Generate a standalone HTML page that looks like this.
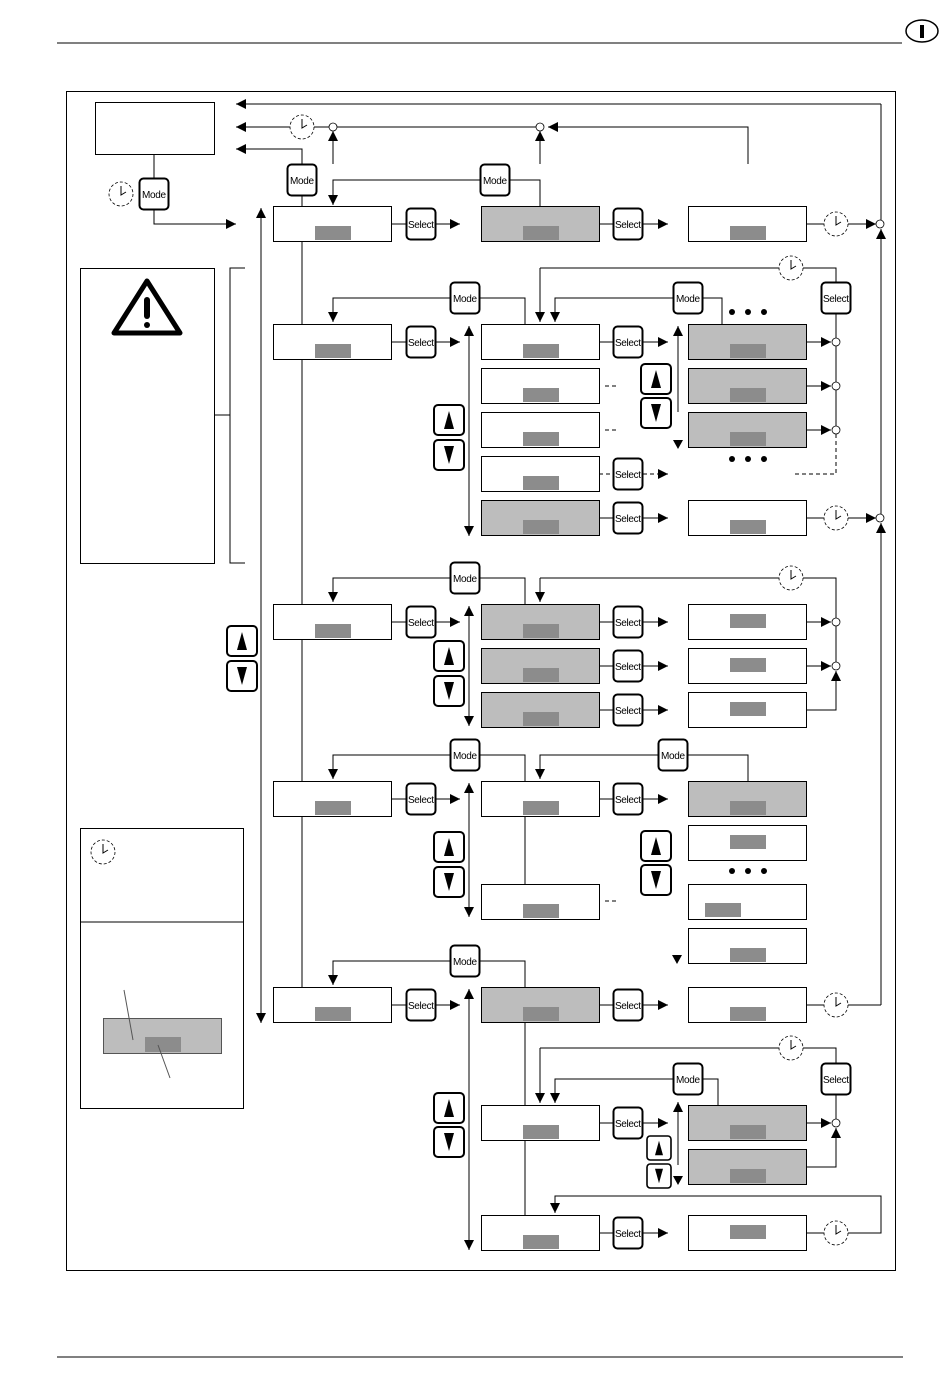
<!DOCTYPE html>
<html><head><meta charset="utf-8"><style>
html,body{margin:0;padding:0;background:#fff}
svg{display:block}
text{font-family:"Liberation Sans",sans-serif;font-size:10px}
</style></head><body>
<svg width="950" height="1379" viewBox="0 0 950 1379" xmlns="http://www.w3.org/2000/svg">
<defs>
<marker id="a" markerUnits="userSpaceOnUse" markerWidth="10" markerHeight="10" refX="10" refY="5" orient="auto"><path d="M0,0L10,5L0,10z"/></marker>
<g id="bw" shape-rendering="crispEdges"><rect x="0.5" y="0.5" width="118" height="35" fill="#fff" stroke="#000" stroke-width="1"/><rect x="42" y="20" width="36" height="14" fill="#8c8c8c"/></g>
<g id="bg" shape-rendering="crispEdges"><rect x="0.5" y="0.5" width="118" height="35" fill="#bdbdbd" stroke="#000" stroke-width="1"/><rect x="42" y="20" width="36" height="14" fill="#8c8c8c"/></g>
<g id="bc" shape-rendering="crispEdges"><rect x="0.5" y="0.5" width="118" height="35" fill="#fff" stroke="#000" stroke-width="1"/><rect x="42" y="10" width="36" height="14" fill="#8c8c8c"/></g>
<g id="clk"><circle r="12" fill="#fff" stroke="#000" stroke-width="0.8" stroke-dasharray="3,2"/><path d="M0,-8V1L5,-2" fill="none" stroke="#000" stroke-width="1"/></g>
<g id="btn"><rect x="-14.5" y="-15.5" width="29" height="31" rx="4" fill="#fff" stroke="#000" stroke-width="2"/></g>
<g id="up"><rect x="-15" y="-15" width="30" height="30" rx="4" fill="#fff" stroke="#000" stroke-width="2"/><path d="M-5,9L0,-9L5,9z"/></g>
<g id="dn"><rect x="-15" y="-15" width="30" height="30" rx="4" fill="#fff" stroke="#000" stroke-width="2"/><path d="M-5,-9L0,9L5,-9z"/></g>
<circle id="j" r="4" fill="#fff" stroke="#000" stroke-width="0.8"/>
</defs>

<g shape-rendering="crispEdges">
<line x1="57" y1="43" x2="902" y2="43" stroke="#000"/>
<line x1="57" y1="1357" x2="903" y2="1357" stroke="#000"/>
<rect x="66.5" y="91.5" width="829" height="1179" fill="none" stroke="#000"/>
</g>
<ellipse cx="922" cy="31" rx="16" ry="11" fill="none" stroke="#000" stroke-width="1.5"/>
<rect x="920" y="25" width="4" height="13"/>

<g fill="none" stroke="#000" stroke-width="1" shape-rendering="crispEdges">
<path d="M881,104H236" marker-end="url(#a)"/>
<path d="M748,164V127H548" marker-end="url(#a)"/>
<path d="M536,127H236" marker-end="url(#a)"/>
<path d="M302,164V149H236" marker-end="url(#a)"/>
<path d="M333,164V131" marker-end="url(#a)"/>
<path d="M540,164V131" marker-end="url(#a)"/>
<path d="M154,154V178M154,210V224H236" marker-end="url(#a)"/>
<path d="M481,180H333V205" marker-end="url(#a)"/>
<path d="M510,180H540V206"/>
<path d="M302,196V987"/>
<path d="M261,1020V208" marker-end="url(#a)"/>
<path d="M261,210V1023" marker-end="url(#a)"/>
<path d="M881,104V220"/>
<path d="M881,518V229" marker-end="url(#a)"/>
<path d="M881,1005V523" marker-end="url(#a)"/>
<path d="M848,224H876" marker-end="url(#a)"/>
<path d="M848,518H876" marker-end="url(#a)"/>
<path d="M848,1005H881"/>
<path d="M807,224H824M807,518H824M807,1005H824M807,1233H824"/>
<path d="M391,224H406M436,224H460" marker-end="url(#a)"/>
<path d="M599,224H614M643,224H668" marker-end="url(#a)"/>
<path d="M245,268H230V563H245M214,415H230"/>

<path d="M451,298H333V322" marker-end="url(#a)"/>
<path d="M480,298H525V324"/>
<path d="M391,342H406M436,342H460" marker-end="url(#a)"/>
<path d="M469,340V326" marker-end="url(#a)"/>
<path d="M469,330V536" marker-end="url(#a)"/>
<path d="M599,342H614M643,342H668" marker-end="url(#a)"/>
<path d="M599,518H614M643,518H668" marker-end="url(#a)"/>
<path d="M540,268H779M803,268H836V283" />
<path d="M540,268V322" marker-end="url(#a)"/>
<path d="M674,298H555V322" marker-end="url(#a)"/>
<path d="M702,298H722V324"/>
<path d="M678,412V326" marker-end="url(#a)"/>
<path d="M836,313V426"/>
<path d="M807,342H831" marker-end="url(#a)"/>
<path d="M807,386H831" marker-end="url(#a)"/>
<path d="M807,430H831" marker-end="url(#a)"/>
<path d="M836,434V474H795" stroke-dasharray="4,3"/>
<path d="M605,386H616M605,430H616" stroke-dasharray="4,3"/>
<path d="M599,474H614M643,474H668" stroke-dasharray="4,3" marker-end="url(#a)"/>

<path d="M451,578H333V602" marker-end="url(#a)"/>
<path d="M480,578H525V604"/>
<path d="M391,622H406M436,622H460" marker-end="url(#a)"/>
<path d="M469,620V606" marker-end="url(#a)"/>
<path d="M469,610V726" marker-end="url(#a)"/>
<path d="M599,622H614M643,622H668" marker-end="url(#a)"/>
<path d="M599,666H614M643,666H668" marker-end="url(#a)"/>
<path d="M599,710H614M643,710H668" marker-end="url(#a)"/>
<path d="M540,578H779M803,578H836V662"/>
<path d="M540,578V602" marker-end="url(#a)"/>
<path d="M807,622H831" marker-end="url(#a)"/>
<path d="M807,666H831" marker-end="url(#a)"/>
<path d="M807,710H836V671" marker-end="url(#a)"/>

<path d="M451,755H333V779" marker-end="url(#a)"/>
<path d="M480,755H525V781"/>
<path d="M391,799H406M436,799H460" marker-end="url(#a)"/>
<path d="M469,797V783" marker-end="url(#a)"/>
<path d="M469,787V917" marker-end="url(#a)"/>
<path d="M525,816V884"/>
<path d="M599,799H614M643,799H668" marker-end="url(#a)"/>
<path d="M659,755H540V779" marker-end="url(#a)"/>
<path d="M688,755H748V781"/>
<path d="M605,901H616" stroke-dasharray="4,3"/>

<rect x="80.5" y="828.5" width="163" height="280"/>
<path d="M80,922H243"/>
<rect x="80.5" y="268.5" width="134" height="295"/>
<rect x="95.5" y="102.5" width="119" height="52"/>

<path d="M451,961H333V985" marker-end="url(#a)"/>
<path d="M480,961H525V987"/>
<path d="M391,1005H406M436,1005H460" marker-end="url(#a)"/>
<path d="M469,1003V989" marker-end="url(#a)"/>
<path d="M469,993V1250" marker-end="url(#a)"/>
<path d="M599,1005H614M643,1005H668" marker-end="url(#a)"/>
<path d="M525,1022V1215"/>
<path d="M540,1048H779M803,1048H836V1063"/>
<path d="M540,1048V1103" marker-end="url(#a)"/>
<path d="M674,1079H555V1103" marker-end="url(#a)"/>
<path d="M702,1079H718V1105"/>
<path d="M599,1123H614M643,1123H668" marker-end="url(#a)"/>
<path d="M678,1165V1102" marker-end="url(#a)"/>
<path d="M836,1095V1119"/>
<path d="M807,1123H831" marker-end="url(#a)"/>
<path d="M807,1167H836V1128" marker-end="url(#a)"/>
<path d="M599,1233H614M643,1233H668" marker-end="url(#a)"/>
<path d="M848,1233H881V1196H555V1213" marker-end="url(#a)"/>
</g>

<path d="M673,440L683,440L678,449z"/>
<path d="M672,955L682,955L677,964z"/>
<path d="M673,1176L683,1176L678,1185z"/>

<path d="M147,281L180,333H114z" fill="none" stroke="#000" stroke-width="5" stroke-linejoin="round"/>
<rect x="144" y="297" width="6" height="22" rx="3"/>
<circle cx="147" cy="325" r="3"/>

<use href="#bw" x="273" y="206"/><use href="#bg" x="481" y="206"/><use href="#bw" x="688" y="206"/>
<use href="#bw" x="273" y="324"/>
<use href="#bw" x="481" y="324"/><use href="#bw" x="481" y="368"/><use href="#bw" x="481" y="412"/><use href="#bw" x="481" y="456"/><use href="#bg" x="481" y="500"/>
<use href="#bg" x="688" y="324"/><use href="#bg" x="688" y="368"/><use href="#bg" x="688" y="412"/><use href="#bw" x="688" y="500"/>
<use href="#bw" x="273" y="604"/>
<use href="#bg" x="481" y="604"/><use href="#bg" x="481" y="648"/><use href="#bg" x="481" y="692"/>
<use href="#bc" x="688" y="604"/><use href="#bc" x="688" y="648"/><use href="#bc" x="688" y="692"/>
<use href="#bw" x="273" y="781"/><use href="#bw" x="481" y="781"/><use href="#bw" x="481" y="884"/>
<use href="#bg" x="688" y="781"/><use href="#bc" x="688" y="825"/>
<g shape-rendering="crispEdges"><rect x="688.5" y="884.5" width="118" height="35" fill="#fff" stroke="#000"/><rect x="705" y="903" width="36" height="14" fill="#8c8c8c"/></g>
<use href="#bw" x="688" y="928"/>
<use href="#bw" x="273" y="987"/><use href="#bg" x="481" y="987"/><use href="#bw" x="688" y="987"/>
<use href="#bw" x="481" y="1105"/><use href="#bg" x="688" y="1105"/><use href="#bg" x="688" y="1149"/>
<use href="#bw" x="481" y="1215"/><use href="#bc" x="688" y="1215"/>
<g shape-rendering="crispEdges"><rect x="103.5" y="1018.5" width="118" height="35" fill="#bdbdbd" stroke="#555"/><rect x="145" y="1037" width="36" height="15" fill="#8c8c8c"/></g>
<path d="M124,990L133,1040M158,1045L170,1078" stroke="#555" fill="none"/>

<g fill="#000"><circle cx="732" cy="312" r="3"/><circle cx="748" cy="312" r="3"/><circle cx="764" cy="312" r="3"/>
<circle cx="732" cy="459" r="3"/><circle cx="748" cy="459" r="3"/><circle cx="764" cy="459" r="3"/>
<circle cx="732" cy="871" r="3"/><circle cx="748" cy="871" r="3"/><circle cx="764" cy="871" r="3"/></g>

<use href="#clk" x="302" y="127"/><use href="#clk" x="121" y="194"/><use href="#clk" x="836" y="224"/>
<use href="#clk" x="791" y="268"/><use href="#clk" x="836" y="518"/><use href="#clk" x="791" y="578"/>
<use href="#clk" x="103" y="852"/><use href="#clk" x="836" y="1005"/><use href="#clk" x="791" y="1048"/>
<use href="#clk" x="836" y="1233"/>

<use href="#j" x="333" y="127"/><use href="#j" x="540" y="127"/><use href="#j" x="880" y="224"/><use href="#j" x="880" y="518"/>
<use href="#j" x="836" y="342"/><use href="#j" x="836" y="386"/><use href="#j" x="836" y="430"/>
<use href="#j" x="836" y="622"/><use href="#j" x="836" y="666"/><use href="#j" x="836" y="1123"/>

<use href="#up" x="656" y="379"/><use href="#dn" x="656" y="413"/>
<use href="#up" x="449" y="420"/><use href="#dn" x="449" y="455"/>
<use href="#up" x="242" y="641"/><use href="#dn" x="242" y="676"/>
<use href="#up" x="449" y="656"/><use href="#dn" x="449" y="691"/>
<use href="#up" x="449" y="847"/><use href="#dn" x="449" y="882"/>
<use href="#up" x="656" y="846"/><use href="#dn" x="656" y="880"/>
<use href="#up" x="449" y="1108"/><use href="#dn" x="449" y="1142"/>
<g transform="translate(659,1148) scale(0.8)"><use href="#up"/></g>
<g transform="translate(659,1176) scale(0.8)"><use href="#dn"/></g>

<g text-anchor="middle">
<use href="#btn" x="154" y="194"/><text x="154" y="198" textLength="24">Mode</text>
<use href="#btn" x="302" y="180"/><text x="302" y="184" textLength="24">Mode</text>
<use href="#btn" x="495" y="180"/><text x="495" y="184" textLength="24">Mode</text>
<use href="#btn" x="465" y="298"/><text x="465" y="302" textLength="24">Mode</text>
<use href="#btn" x="688" y="298"/><text x="688" y="302" textLength="24">Mode</text>
<use href="#btn" x="465" y="578"/><text x="465" y="582" textLength="24">Mode</text>
<use href="#btn" x="465" y="755"/><text x="465" y="759" textLength="24">Mode</text>
<use href="#btn" x="673" y="755"/><text x="673" y="759" textLength="24">Mode</text>
<use href="#btn" x="465" y="961"/><text x="465" y="965" textLength="24">Mode</text>
<use href="#btn" x="688" y="1079"/><text x="688" y="1083" textLength="24">Mode</text>

<use href="#btn" x="421" y="224"/><text x="421" y="228" textLength="26">Select</text>
<use href="#btn" x="628" y="224"/><text x="628" y="228" textLength="26">Select</text>
<use href="#btn" x="421" y="342"/><text x="421" y="346" textLength="26">Select</text>
<use href="#btn" x="628" y="342"/><text x="628" y="346" textLength="26">Select</text>
<use href="#btn" x="628" y="474"/><text x="628" y="478" textLength="26">Select</text>
<use href="#btn" x="628" y="518"/><text x="628" y="522" textLength="26">Select</text>
<use href="#btn" x="836" y="298"/><text x="836" y="302" textLength="26">Select</text>
<use href="#btn" x="421" y="622"/><text x="421" y="626" textLength="26">Select</text>
<use href="#btn" x="628" y="622"/><text x="628" y="626" textLength="26">Select</text>
<use href="#btn" x="628" y="666"/><text x="628" y="670" textLength="26">Select</text>
<use href="#btn" x="628" y="710"/><text x="628" y="714" textLength="26">Select</text>
<use href="#btn" x="421" y="799"/><text x="421" y="803" textLength="26">Select</text>
<use href="#btn" x="628" y="799"/><text x="628" y="803" textLength="26">Select</text>
<use href="#btn" x="421" y="1005"/><text x="421" y="1009" textLength="26">Select</text>
<use href="#btn" x="628" y="1005"/><text x="628" y="1009" textLength="26">Select</text>
<use href="#btn" x="836" y="1079"/><text x="836" y="1083" textLength="26">Select</text>
<use href="#btn" x="628" y="1123"/><text x="628" y="1127" textLength="26">Select</text>
<use href="#btn" x="628" y="1233"/><text x="628" y="1237" textLength="26">Select</text>
</g>
</svg>
</body></html>
